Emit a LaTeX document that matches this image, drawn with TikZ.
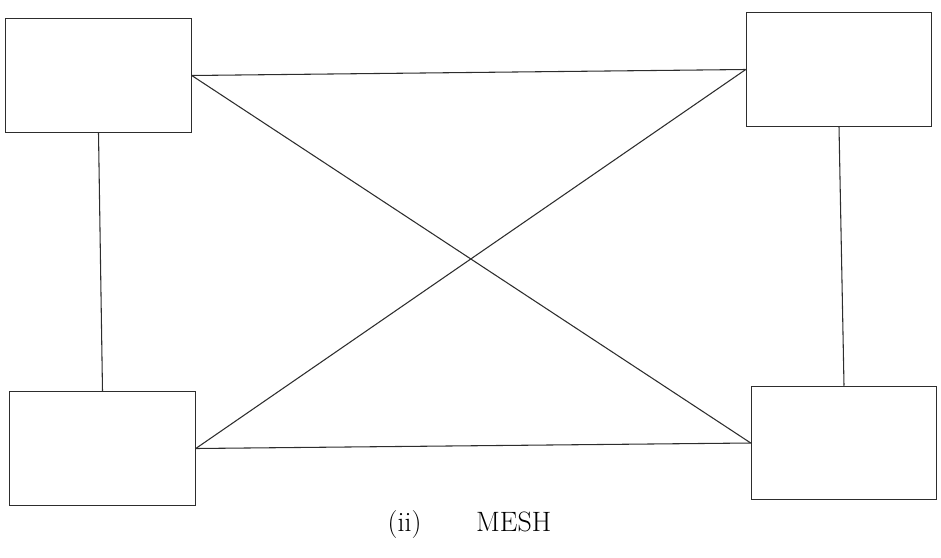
\documentclass[tikz,border=0pt]{standalone}
\usepackage{tikz}
\usetikzlibrary{positioning, calc}
\definecolor{cL}{RGB}{45,45,45}

\begin{document}
\begin{tikzpicture}[x=0.75pt, y=-0.75pt, line width=0.8pt, draw=cL,
                    every node/.style={inner sep=0pt},
                    station/.style={rectangle, draw=cL, line width=0.9pt, fill=white,
                                    minimum width=139pt, minimum height=85pt}]
    \useasboundingbox (0,0) rectangle (941,557);

    % Node Placements at the four corners
    \node[station] (TL) at (98.5, 75.5)  {};
    \node[station] (TR) at (839, 69.5)   {};
    \node[station] (BL) at (102.5, 448.5) {};
    \node[station] (BR) at (844, 443)    {};

    % Links (every station to every other one)
    \path[draw=cL]
    (TL.east)  edge (TR.west)
    (BL.east)  edge (BR.west)
    (TL.south) edge (BL.north)
    (TR.south) edge (BR.north)
    (TL.east)  edge (BR.west)
    (BL.east)  edge (TR.west);

    % Caption
    \node (cap) at (469.5, 525) {\fontsize{21}{24}\selectfont (ii)\hspace{41pt}MESH};
\end{tikzpicture}
\end{document}
